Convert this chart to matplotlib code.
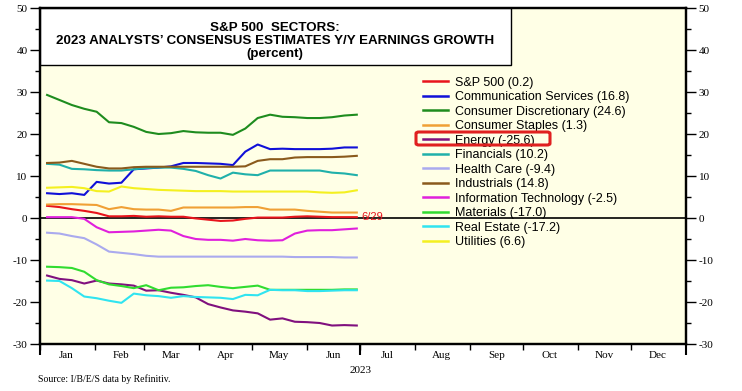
import numpy as np
import pandas as pd
import matplotlib
matplotlib.use("Agg")
import matplotlib.pyplot as plt
import matplotlib.dates as mdates
from matplotlib.patches import Rectangle, FancyBboxPatch

plt.rcParams["axes.unicode_minus"] = False

# weekly readings, Thursdays Jan 5 .. Jun 29 2023
dates = pd.date_range("2023-01-05", "2023-06-29", freq="W-THU")

sp500 = [2.9, 2.6, 2.1, 1.7, 1.2, 0.4, 0.4, 0.5, 0.3, 0.4, 0.3, 0.3, -0.1,
         -0.4, -0.7, -0.6, -0.2, 0.1, 0.1, 0.1, 0.3, 0.4, 0.3, 0.2, 0.2, 0.2]
comm_services = [5.9, 5.7, 5.9, 5.5, 8.6, 8.2, 8.4, 11.6, 11.8, 12.0, 12.3, 13.1, 13.1,
                 13.0, 12.9, 12.6, 15.8, 17.5, 16.4, 16.5, 16.4, 16.4, 16.4, 16.5, 16.8, 16.8]
cons_disc = [29.3, 28.1, 26.9, 26.0, 25.3, 22.8, 22.6, 21.7, 20.5, 20.0, 20.2, 20.7, 20.4,
             20.3, 20.3, 19.8, 21.3, 23.8, 24.6, 24.1, 24.0, 23.8, 23.8, 24.0, 24.4, 24.6]
cons_staples = [3.2, 3.3, 3.3, 3.2, 3.1, 2.1, 2.6, 2.1, 2.0, 2.0, 1.7, 2.5, 2.5,
                2.5, 2.5, 2.5, 2.6, 2.6, 2.0, 2.0, 2.0, 1.7, 1.5, 1.3, 1.3, 1.3]
energy = [-13.7, -14.5, -14.8, -15.6, -14.9, -15.6, -15.8, -16.1, -17.3, -17.2, -17.8, -18.3, -18.9,
          -20.5, -21.3, -22.0, -22.3, -22.7, -24.2, -23.9, -24.7, -24.8, -25.0, -25.6, -25.5, -25.6]
financials = [12.9, 12.7, 11.7, 11.6, 11.4, 11.3, 11.3, 11.6, 11.9, 12.0, 12.0, 11.7, 11.2,
              10.2, 9.4, 10.8, 10.4, 10.2, 11.3, 11.3, 11.3, 11.3, 11.3, 10.8, 10.6, 10.2]
health_care = [-3.5, -3.7, -4.3, -4.8, -6.3, -8.0, -8.3, -8.6, -9.0, -9.2, -9.2, -9.2, -9.2,
               -9.2, -9.2, -9.2, -9.2, -9.2, -9.2, -9.2, -9.3, -9.3, -9.3, -9.3, -9.4, -9.4]
industrials = [13.1, 13.2, 13.6, 12.9, 12.2, 11.8, 11.8, 12.1, 12.2, 12.2, 12.2, 12.2, 12.2,
               12.2, 12.2, 12.2, 12.3, 13.6, 14.0, 14.0, 14.4, 14.5, 14.5, 14.5, 14.6, 14.8]
info_tech = [0.2, 0.2, 0.2, -0.2, -2.2, -3.4, -3.3, -3.2, -3.0, -2.8, -3.0, -4.3, -5.0,
             -5.2, -5.2, -5.4, -5.0, -5.3, -5.4, -5.3, -3.7, -3.0, -2.9, -2.9, -2.7, -2.5]
materials = [-11.6, -11.7, -11.9, -12.8, -14.8, -15.8, -16.2, -16.7, -16.0, -17.2, -16.6, -16.5, -16.2,
             -16.0, -16.4, -16.7, -16.4, -16.1, -17.1, -17.1, -17.1, -17.1, -17.1, -17.1, -17.0, -17.0]
real_estate = [-14.9, -15.0, -16.7, -18.7, -19.1, -19.7, -20.2, -18.0, -18.4, -18.6, -19.0, -18.6, -18.8,
               -18.9, -19.0, -19.3, -18.3, -18.4, -17.1, -17.2, -17.2, -17.4, -17.4, -17.3, -17.2, -17.2]
utilities = [7.2, 7.3, 7.4, 7.1, 6.4, 6.3, 7.5, 7.1, 6.9, 6.7, 6.6, 6.5, 6.4,
             6.4, 6.4, 6.3, 6.3, 6.3, 6.3, 6.3, 6.3, 6.3, 6.1, 6.0, 6.1, 6.6]

labels = ["S&P 500 (0.2)", "Communication Services (16.8)", "Consumer Discretionary (24.6)",
          "Consumer Staples (1.3)", "Energy (-25.6)", "Financials (10.2)", "Health Care (-9.4)",
          "Industrials (14.8)", "Information Technology (-2.5)", "Materials (-17.0)",
          "Real Estate (-17.2)", "Utilities (6.6)"]
series = [sp500, comm_services, cons_disc, cons_staples, energy, financials, health_care,
          industrials, info_tech, materials, real_estate, utilities]
colors = ["#e8141c", "#1010d8", "#1e8c1e", "#f0a035", "#80107e", "#20b0aa", "#aaaaee",
          "#8a5a1c", "#e020dc", "#30dc30", "#30e4f0", "#f4f020"]

month_names = ["Jan", "Feb", "Mar", "Apr", "May", "Jun",
               "Jul", "Aug", "Sep", "Oct", "Nov", "Dec"]

serif = ["Liberation Serif", "DejaVu Serif"]
sans = ["Liberation Sans", "DejaVu Sans"]

fig = plt.figure(figsize=(7.42, 3.91), dpi=100)
ax = fig.add_axes([40 / 742, 1 - 344 / 391, 646 / 742, 336 / 391])
ax.set_facecolor("#ffffe6")

for vals, lab, col in zip(series, labels, colors):
    ax.plot(dates, vals, color=col, lw=1.5, label=lab)

ax.axhline(0, color="black", lw=1.2, zorder=1)

x0 = mdates.date2num(pd.Timestamp("2023-01-01"))
xmid = mdates.date2num(pd.Timestamp("2023-07-01"))
x1 = mdates.date2num(pd.Timestamp("2024-01-01"))
ax.set_xlim(x0, x1)
ax.set_ylim(-30, 50)

# y axis, both sides
ax.set_yticks(np.arange(-30, 51, 10))
ax.set_yticks(np.arange(-30, 51, 5), minor=True)
ax.tick_params(axis="y", which="major", length=7, width=1, direction="out", pad=2)
ax.tick_params(axis="y", which="minor", length=3.5, width=1, direction="out")
for t in ax.get_yticklabels():
    t.set_fontfamily(serif)
    t.set_fontsize(8)

axr = ax.twinx()
axr.set_ylim(-30, 50)
axr.set_yticks(np.arange(-30, 51, 10))
axr.set_yticks(np.arange(-30, 51, 5), minor=True)
axr.tick_params(axis="y", which="major", length=7, width=1, direction="out", pad=2)
axr.tick_params(axis="y", which="minor", length=3.5, width=1, direction="out")
for t in axr.get_yticklabels():
    t.set_fontfamily(serif)
    t.set_fontsize(8)

# x axis: month starts as ticks, names centred in each month
month_starts = pd.date_range("2023-01-01", "2023-12-01", freq="MS")
month_mids = month_starts + pd.Timedelta(days=15)
ax.set_xticks(mdates.date2num(month_mids))
ax.set_xticklabels(month_names, fontfamily=serif, fontsize=8)
ax.tick_params(axis="x", which="major", length=0, pad=5)
ax.set_xticks(mdates.date2num(month_starts), minor=True)
ax.tick_params(axis="x", which="minor", length=4, width=1, direction="out")

# longer ticks at year start, mid-year and year end
year_ax = ax.secondary_xaxis("bottom")
year_ax.set_xticks([x0, xmid, x1])
year_ax.set_xticklabels(["", "", ""])
year_ax.tick_params(axis="x", length=8, width=1.5)
year_ax.spines["bottom"].set_visible(False)

ax.text(xmid, -0.065, "2023", transform=ax.get_xaxis_transform(),
        ha="center", va="top", fontfamily=serif, fontsize=8)

for a in (ax, axr):
    for s in a.spines.values():
        s.set_linewidth(1.6)

# title box
ax.add_patch(Rectangle((0, 0.83), 0.729, 0.17, transform=ax.transAxes,
                       facecolor="white", edgecolor="black", lw=1.0, zorder=3))
ax.text(0.364, 0.902, "S&P 500  SECTORS:\n2023 ANALYSTS\u2019 CONSENSUS ESTIMATES Y/Y EARNINGS GROWTH\n(percent)",
        transform=ax.transAxes, ha="center", va="center", fontfamily=sans,
        fontweight="bold", fontsize=9.6, linespacing=1.15, zorder=4)

# legend
leg = ax.legend(loc="upper left", bbox_to_anchor=(0.585, 0.81), frameon=False,
                prop={"family": sans, "size": 9}, handlelength=2.0, handletextpad=0.6,
                labelspacing=0.2, borderaxespad=0)
for ln in leg.get_lines():
    ln.set_linewidth(1.8)

# end-of-data date label
ax.annotate("6/29", (mdates.date2num(dates[-1]), sp500[-1]), xytext=(3, 0),
            textcoords="offset points", color="#e8141c", fontsize=8,
            fontfamily=sans, va="center", ha="left")

# highlight box around Energy
fig.patches.append(FancyBboxPatch((416 / 742, 1 - 145 / 391), 134 / 742, 13 / 391,
                                  boxstyle="round,pad=0,rounding_size=0.004",
                                  transform=fig.transFigure, fill=False,
                                  edgecolor="#e02020", lw=2.2))

fig.text(38 / 742, 1 - 379 / 391, "Source: I/B/E/S data by Refinitiv.",
         fontfamily=serif, fontsize=7, va="center", ha="left")

fig.savefig("out.png", dpi=100)
